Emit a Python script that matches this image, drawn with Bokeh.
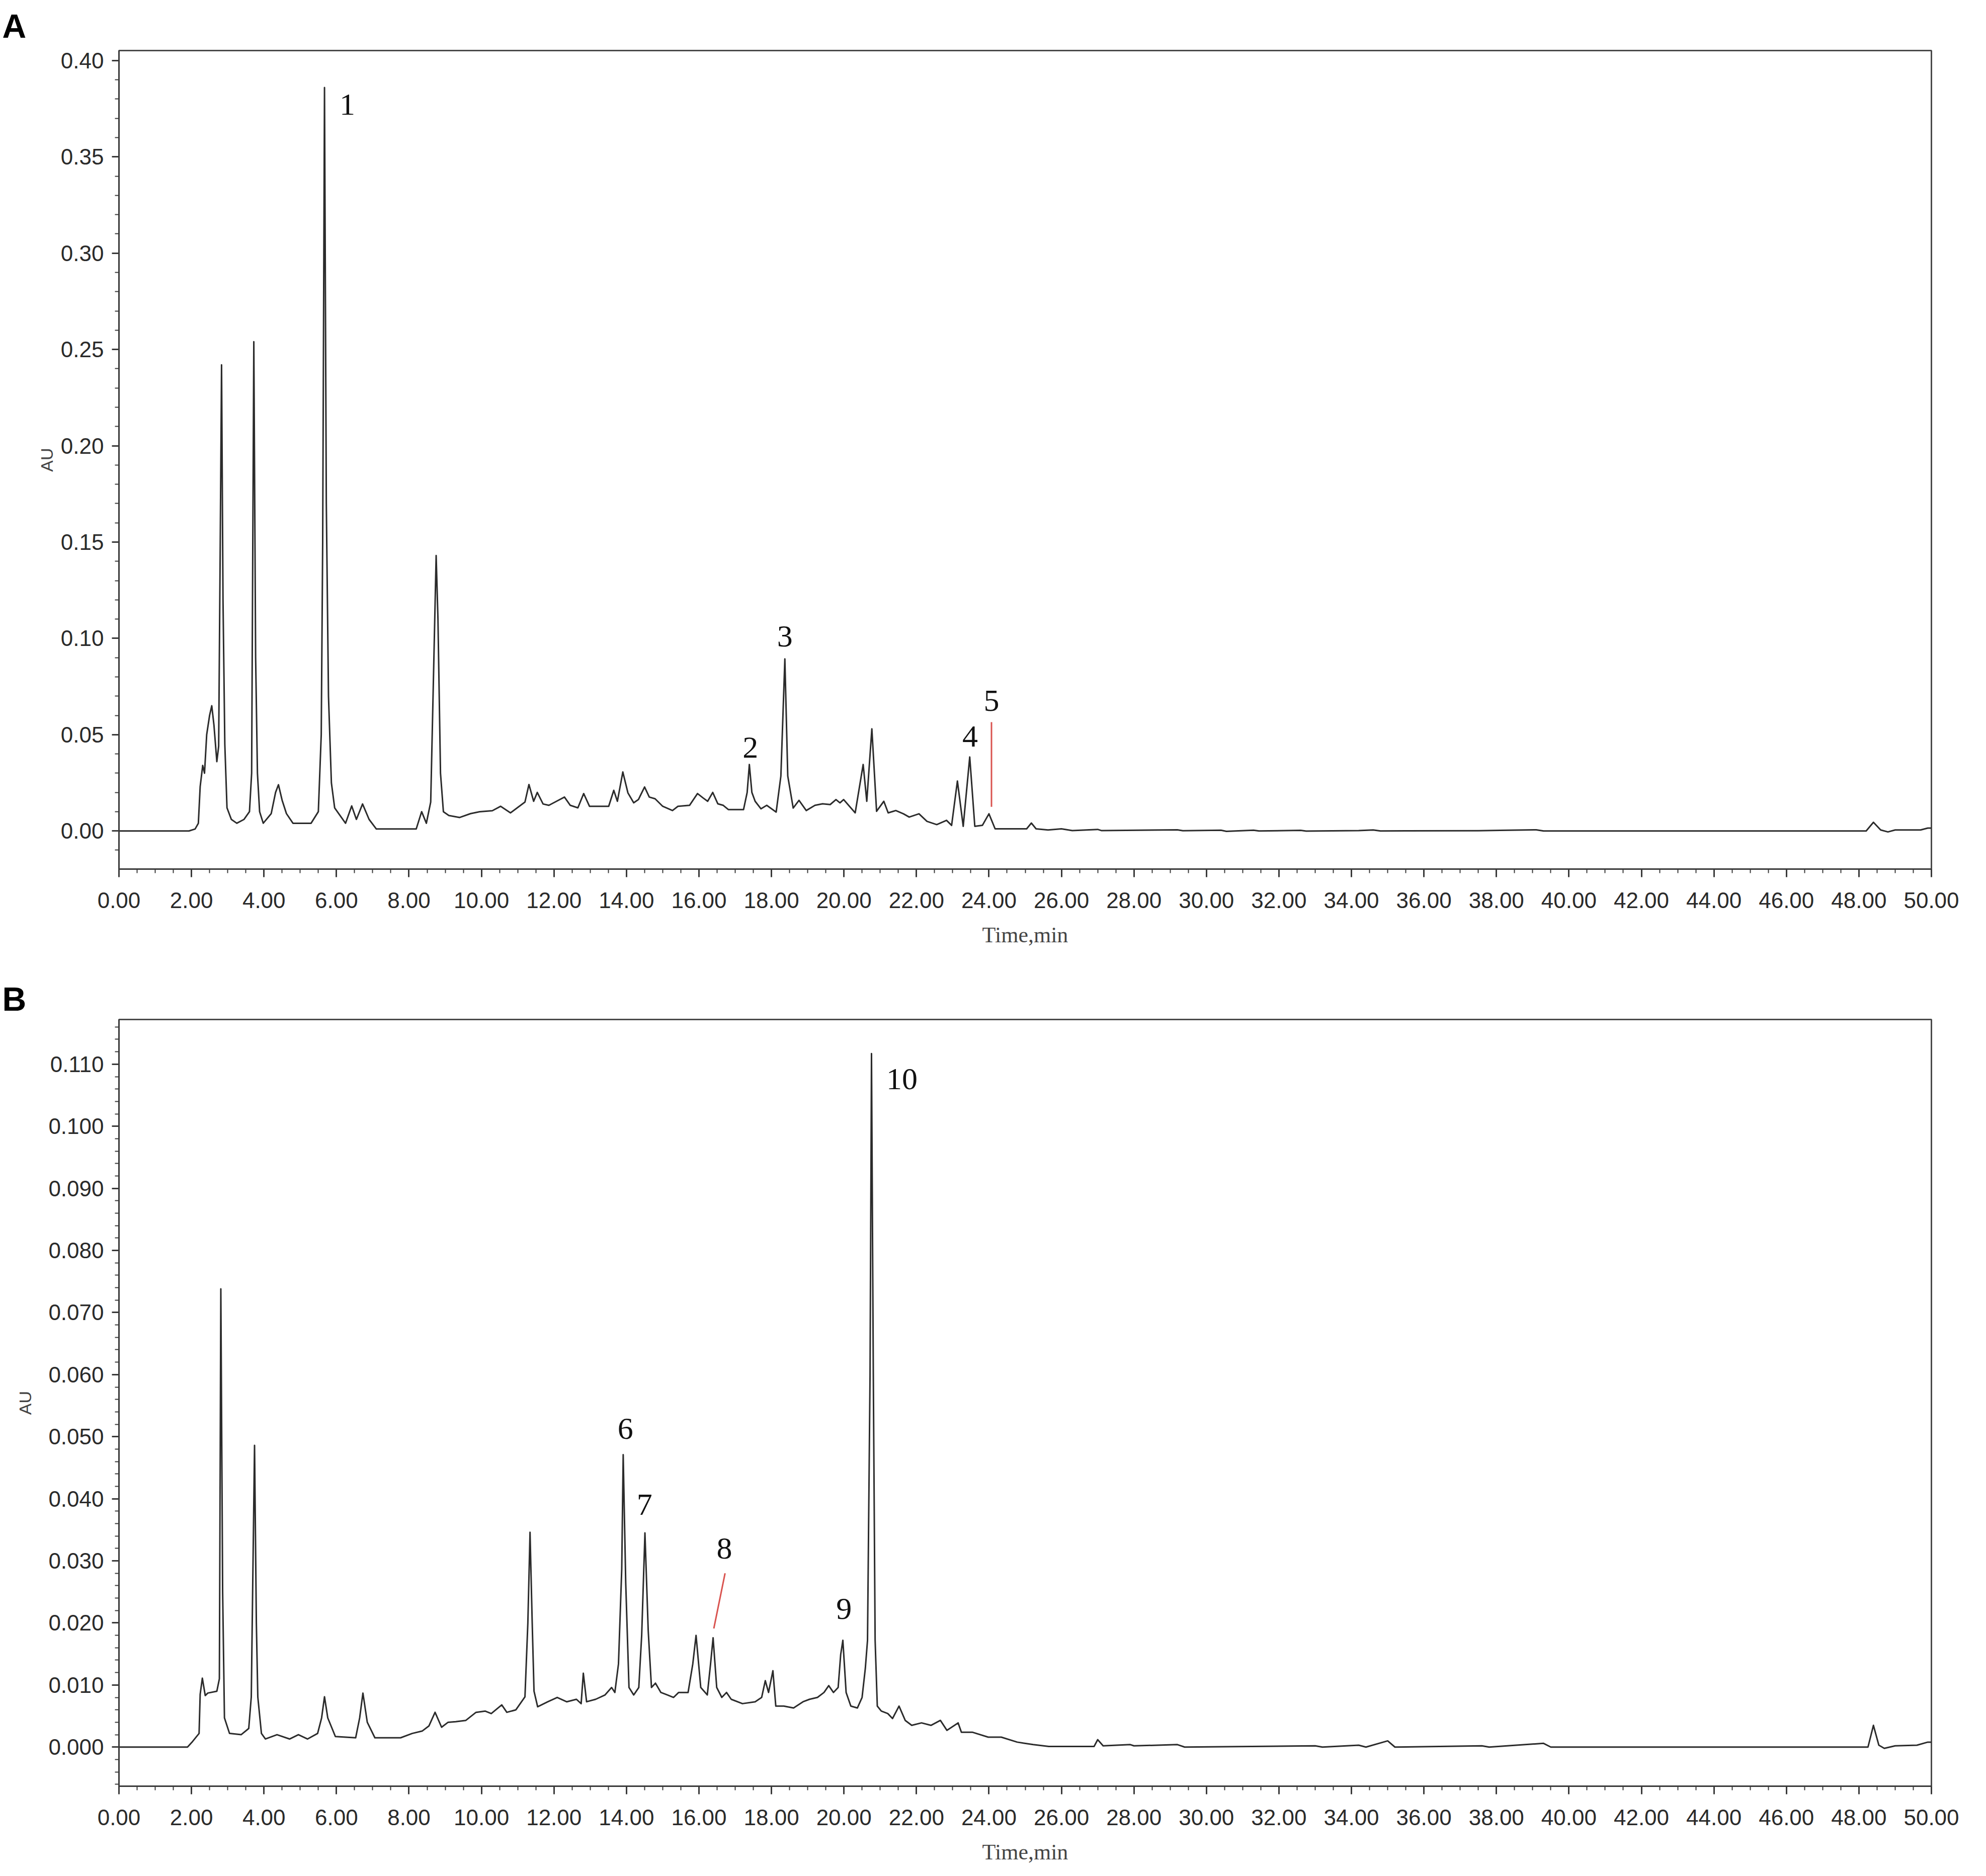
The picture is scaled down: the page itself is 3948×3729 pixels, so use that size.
from bokeh.plotting import figure
from bokeh.models import Range1d, SingleIntervalTicker, PrintfTickFormatter, ColumnDataSource
from bokeh.layouts import column
from bokeh.core.properties import value
from bokeh.embed import file_html
from bokeh.resources import INLINE

# ---------------- Data ----------------
time_a = [0.0, 1.93, 2.10, 2.19, 2.24, 2.31, 2.36, 2.42, 2.50, 2.56, 2.62, 2.70, 2.75, 2.79, 2.83, 2.87,
          2.92, 2.98, 3.10, 3.25, 3.45, 3.60, 3.66, 3.72, 3.77, 3.82, 3.88, 3.98, 4.20, 4.32, 4.40, 4.50,
          4.62, 4.80, 5.30, 5.50, 5.58, 5.62, 5.67, 5.72, 5.78, 5.86, 5.95, 6.10, 6.25, 6.42, 6.55, 6.72,
          6.90, 7.10, 8.20, 8.35, 8.48, 8.60, 8.70, 8.75, 8.80, 8.87, 8.95, 9.10, 9.40, 9.70, 9.95, 10.30,
          10.53, 10.80, 11.20, 11.31, 11.44, 11.54, 11.70, 11.86, 12.07, 12.29, 12.45, 12.66, 12.82, 12.98,
          13.51, 13.65, 13.75, 13.90, 14.04, 14.20, 14.33, 14.50, 14.63, 14.79, 15.00, 15.27, 15.42, 15.74,
          15.96, 16.11, 16.24, 16.38, 16.52, 16.67, 16.81, 17.23, 17.33, 17.39, 17.46, 17.55, 17.71, 17.87,
          18.13, 18.26, 18.37, 18.45, 18.60, 18.76, 18.96, 19.20, 19.41, 19.62, 19.78, 19.89, 19.99, 20.31,
          20.53, 20.63, 20.77, 20.90, 21.10, 21.22, 21.43, 21.64, 21.80, 22.07, 22.29, 22.56, 22.83, 22.97,
          23.13, 23.29, 23.47, 23.61, 23.82, 24.00, 24.17, 25.04, 25.17, 25.30, 25.63, 26.00, 26.30, 27.00,
          27.10, 29.20, 29.35, 30.40, 30.55, 31.30, 31.45, 32.60, 32.75, 34.20, 34.60, 34.80, 37.50, 38.10,
          39.10, 39.30, 48.20, 48.40, 48.60, 48.80, 49.00, 49.70, 49.90, 50.00]
au_a = [0.0, 0.0, 0.001, 0.004, 0.023, 0.034, 0.030, 0.050, 0.060, 0.065, 0.055, 0.036, 0.044, 0.140, 0.242, 0.120,
        0.045, 0.012, 0.006, 0.004, 0.006, 0.010, 0.030, 0.254, 0.090, 0.030, 0.010, 0.004, 0.009, 0.020, 0.024, 0.016,
        0.009, 0.004, 0.004, 0.010, 0.050, 0.150, 0.386, 0.170, 0.070, 0.025, 0.012, 0.008, 0.004, 0.013, 0.006, 0.014,
        0.006, 0.001, 0.001, 0.010, 0.004, 0.015, 0.100, 0.143, 0.110, 0.030, 0.010, 0.008, 0.007, 0.009, 0.010, 0.0105,
        0.0128, 0.0094, 0.015, 0.0241, 0.0154, 0.020, 0.014, 0.0133, 0.0154, 0.0176, 0.0133, 0.012, 0.0194, 0.0128,
        0.0128, 0.0211, 0.0154, 0.0306, 0.0198, 0.0146, 0.0163, 0.0228, 0.0176, 0.0167, 0.0128, 0.0106, 0.0128, 0.0133,
        0.0194, 0.0172, 0.0154, 0.020, 0.0141, 0.0133, 0.0111, 0.0111, 0.020, 0.0345, 0.020, 0.0154, 0.0115, 0.0133,
        0.0098, 0.0285, 0.0893, 0.0285, 0.0119, 0.0159, 0.0106, 0.0133, 0.0141, 0.0137, 0.0163, 0.0146, 0.0163, 0.0094,
        0.0345, 0.0154, 0.053, 0.0102, 0.0154, 0.0094, 0.0106, 0.0089, 0.0072, 0.0089, 0.005, 0.0033, 0.0055, 0.0029,
        0.0259, 0.0024, 0.0384, 0.0024, 0.0029, 0.0089, 0.0011, 0.0011, 0.0041, 0.0011, 0.0005, 0.0011, 0.0002, 0.0008,
        0.0002, 0.0006, 0.0001, 0.0004, -0.0002, 0.0004, 0.0, 0.0003, -0.0001, 0.0002, 0.0005, 0.0, 0.0001, 0.0003,
        0.0006, 0.0, 0.0, 0.0045, 0.0005, -0.0005, 0.0005, 0.0005, 0.0015, 0.0015]

time_b = [0.0, 1.89, 2.03, 2.21, 2.24, 2.30, 2.38, 2.45, 2.70, 2.77, 2.81, 2.86, 2.91, 3.05, 3.37, 3.58,
          3.65, 3.74, 3.79, 3.83, 3.93, 4.04, 4.36, 4.71, 4.95, 5.20, 5.48, 5.59, 5.67, 5.76, 5.97, 6.53,
          6.64, 6.73, 6.85, 7.06, 7.77, 8.09, 8.37, 8.55, 8.72, 8.90, 9.08, 9.29, 9.57, 9.85, 10.10, 10.27,
          10.56, 10.70, 10.95, 11.20, 11.28, 11.34, 11.40, 11.45, 11.55, 11.83, 12.09, 12.35, 12.62, 12.75,
          12.81, 12.90, 13.15, 13.41, 13.59, 13.68, 13.78, 13.87, 13.91, 13.98, 14.07, 14.20, 14.34, 14.42,
          14.51, 14.60, 14.69, 14.80, 14.95, 15.13, 15.30, 15.44, 15.70, 15.83, 15.92, 16.05, 16.23, 16.32,
          16.39, 16.49, 16.63, 16.76, 16.89, 17.20, 17.55, 17.73, 17.83, 17.92, 18.04, 18.12, 18.34, 18.61,
          18.87, 19.05, 19.27, 19.45, 19.58, 19.71, 19.84, 19.91, 19.97, 20.06, 20.19, 20.37, 20.50, 20.59,
          20.65, 20.72, 20.76, 20.81, 20.86, 20.92, 21.03, 21.21, 21.34, 21.52, 21.69, 21.87, 22.14, 22.40,
          22.66, 22.84, 23.15, 23.24, 23.54, 23.98, 24.34, 24.78, 25.22, 25.65, 26.90, 27.00, 27.15, 27.90,
          28.00, 29.20, 29.40, 33.00, 33.20, 34.20, 34.40, 35.00, 35.20, 37.60, 37.80, 39.30, 39.50, 48.25,
          48.40, 48.55, 48.70, 49.00, 49.60, 49.90, 50.00]
au_b = [0.0, 0.0, 0.0009, 0.0022, 0.0085, 0.0111, 0.0083, 0.0087, 0.0090, 0.011, 0.0738, 0.025, 0.0047, 0.0022, 0.002, 0.003,
        0.0081, 0.0486, 0.020, 0.0081, 0.0022, 0.0013, 0.002, 0.0013, 0.002, 0.0013, 0.0022, 0.0047, 0.0081, 0.0047, 0.0017, 0.0015,
        0.0047, 0.0087, 0.004, 0.0015, 0.0015, 0.0022, 0.0026, 0.0034, 0.0056, 0.0032, 0.004, 0.0041, 0.0043, 0.0056, 0.0058, 0.0054,
        0.0068, 0.0056, 0.006, 0.0081, 0.020, 0.0346, 0.020, 0.009, 0.0065, 0.0073, 0.008, 0.0073, 0.0077, 0.007,
        0.0119, 0.0073, 0.0077, 0.0084, 0.0096, 0.0088, 0.0134, 0.0287, 0.0471, 0.0264, 0.0096, 0.0084, 0.0096, 0.018,
        0.0345, 0.0188, 0.0096, 0.0103, 0.0088, 0.0084, 0.008, 0.0088, 0.0088, 0.0134, 0.018, 0.0096, 0.0084, 0.0134,
        0.0176, 0.0096, 0.008, 0.0088, 0.0077, 0.007, 0.0073, 0.008, 0.0107, 0.0088, 0.0123, 0.0066, 0.0066, 0.0063,
        0.0073, 0.0077, 0.008, 0.0088, 0.0099, 0.0088, 0.0096, 0.0149, 0.0172, 0.0088, 0.0066, 0.0063, 0.008, 0.0127,
        0.0172, 0.060, 0.1117, 0.060, 0.0172, 0.0066, 0.0058, 0.0054, 0.0046, 0.0066, 0.0043, 0.0035, 0.0039, 0.0035,
        0.0043, 0.0027, 0.0039, 0.0024, 0.0024, 0.0016, 0.0016, 0.0008, 0.0004, 0.0001, 0.0001, 0.0012, 0.0002, 0.0004,
        0.0002, 0.0004, 0.0, 0.0002, 0.0, 0.0003, 0.0, 0.0010, 0.0, 0.0002, 0.0, 0.0006, 0.0, 0.0,
        0.0035, 0.0003, -0.0002, 0.0002, 0.0003, 0.0008, 0.0008]

# peak labels
peak_labels_a = ["1", "2", "3", "4", "5"]
peak_t_a = [6.30, 17.42, 18.37, 23.48, 24.07]
peak_y_a = [0.377, 0.0434, 0.101, 0.049, 0.0677]
peak_labels_b = ["6", "7", "8", "9", "10"]
peak_t_b = [13.97, 14.50, 16.70, 20.00, 21.60]
peak_y_b = [0.0513, 0.039, 0.032, 0.0223, 0.1076]

# red marker lines (x0, y0, x1, y1)
marker_a = dict(x0=[24.07], y0=[0.0125], x1=[24.07], y1=[0.0565])
marker_b = dict(x0=[16.41], y0=[0.0191], x1=[16.72], y1=[0.0280])

x_ticks_interval = 2.0

TRACE = "#2b2b2b"
AXIS = "#3a3a3a"
RED = "#d9534f"
SANS = "Liberation Sans"
SERIF = "Liberation Serif"


def make_panel(t, y, yr, y_interval, y_fmt, height, top, bottom, right, letter, letter_standoff,
               labels, lt, ly, marker, au_standoff):
    p = figure(width=3930, height=height, output_backend="svg", toolbar_location=None,
               x_range=Range1d(0, 50), y_range=Range1d(*yr),
               min_border_left=236, min_border_right=right, min_border_top=top,
               min_border_bottom=bottom, title=letter)
    p.grid.visible = False
    p.background_fill_color = "white"
    p.border_fill_color = "white"
    p.outline_line_color = "#4a4a4a"
    p.outline_line_width = 3

    p.title.align = "left"
    p.title.offset = -232
    p.title.standoff = letter_standoff
    p.title.text_font = SANS
    p.title.text_font_style = "bold"
    p.title.text_font_size = "66px"
    p.title.text_color = "black"

    p.line(t, y, line_color=TRACE, line_width=3, line_join="round")
    p.segment(x0="x0", y0="y0", x1="x1", y1="y1", source=ColumnDataSource(marker),
              line_color=RED, line_width=3)
    p.text(x=lt, y=ly, text=labels, text_font=value(SERIF), text_font_size="62px",
           text_align="center", text_baseline="middle", text_color="#111111")

    xa = p.xaxis[0]
    xa.ticker = SingleIntervalTicker(interval=x_ticks_interval, num_minor_ticks=4)
    xa.formatter = PrintfTickFormatter(format="%.2f")
    ya = p.yaxis[0]
    ya.ticker = SingleIntervalTicker(interval=y_interval, num_minor_ticks=5)
    ya.formatter = PrintfTickFormatter(format=y_fmt)
    for ax in (xa, ya):
        ax.axis_line_color = AXIS
        ax.axis_line_width = 3
        ax.major_tick_line_color = AXIS
        ax.minor_tick_line_color = AXIS
        ax.major_tick_line_width = 3
        ax.minor_tick_line_width = 2
        ax.major_tick_in = 0
        ax.minor_tick_in = 0
        ax.major_label_text_font = SANS
        ax.major_label_text_font_size = "44px"
        ax.major_label_text_color = "#2a2a2a"
    xa.major_tick_out = 16
    xa.minor_tick_out = 8
    ya.major_tick_out = 14
    ya.minor_tick_out = 8
    xa.major_label_standoff = 30
    ya.major_label_standoff = 16
    xa.axis_label = "Time,min"
    xa.axis_label_text_font = SERIF
    xa.axis_label_text_font_style = "normal"
    xa.axis_label_text_font_size = "44px"
    xa.axis_label_standoff = 26
    ya.axis_label = "AU"
    ya.axis_label_text_font = SANS
    ya.axis_label_text_font_style = "normal"
    ya.axis_label_text_font_size = "34px"
    ya.axis_label_standoff = au_standoff
    return p


pa = make_panel(time_a, au_a, (-0.0198, 0.4052), 0.05, "%.2f", 1940, 98, 213, 91, "A", 24,
                peak_labels_a, peak_t_a, peak_y_a, marker_a, 6)
pb = make_panel(time_b, au_b, (-0.0063, 0.1172), 0.01, "%.3f", 1772, 86, 162, 70, "B", 8,
                peak_labels_b, peak_t_b, peak_y_b, marker_b, 24)

layout = column(pa, pb, spacing=0)
open("out.html", "w").write(file_html(layout, INLINE))
